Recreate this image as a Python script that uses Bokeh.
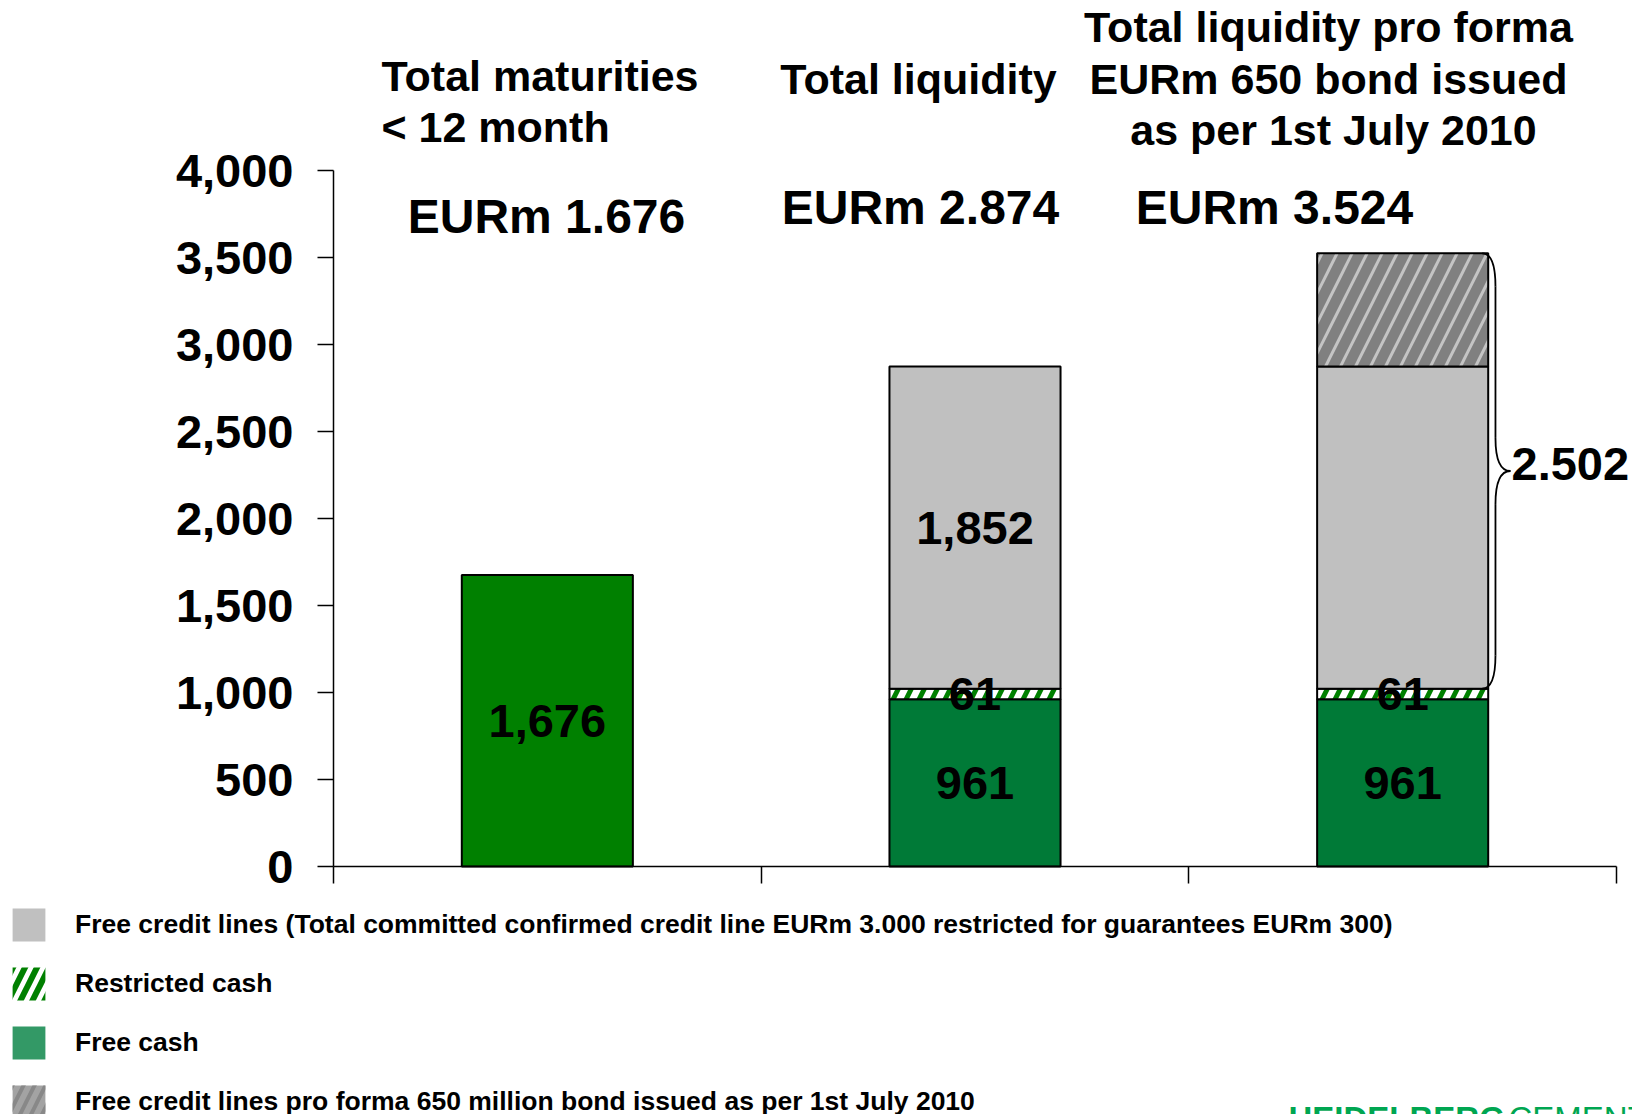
import numpy as np
from bokeh.plotting import figure
from bokeh.models import (Range1d, FixedTicker, NumeralTickFormatter, Label,
                          Legend, LegendItem, ColumnDataSource)
from bokeh.embed import file_html
from bokeh.resources import INLINE
from bokeh.core.properties import value

# ---------------- data ----------------
categories = ["Total maturities < 12 month", "Total liquidity",
              "Total liquidity pro forma EURm 650 bond issued as per 1st July 2010"]
x_pos = [0.5, 1.5, 2.5]
maturities = [1676, 0, 0]
free_cash = [0, 961, 961]
restricted_cash = [0, 61, 61]
free_credit_lines = [0, 1852, 1852]
pro_forma_credit_lines = [0, 0, 650]
show_credit_label = [False, True, False]
y_ticks = [0, 500, 1000, 1500, 2000, 2500, 3000, 3500, 4000]
x_ticks = [0, 1, 2, 3]
header_lines = [["Total maturities", "< 12 month"], ["Total liquidity"],
                ["Total liquidity pro forma", "EURm 650 bond issued", "as per 1st July 2010"]]
totals_text = ["EURm 1.676", "EURm 2.874", "EURm 3.524"]
brace_text = "2.502"
legend_labels = ["Free credit lines (Total committed confirmed credit line EURm 3.000 restricted for guarantees EURm 300)",
                 "Restricted cash", "Free cash",
                 "Free credit lines pro forma 650 million bond issued as per 1st July 2010"]

# ---------------- layout ----------------
W, H = 1632, 1114
AX_L, AX_R, AX_T, AX_B = 333, 1616, 170, 866     # axis box in canvas px
FONT = "Liberation Sans"
BAR_W = 0.4
XS = 3.0 / (AX_R - AX_L)
YS = 4000.0 / (AX_B - AX_T)

p = figure(width=W, height=H,
           x_range=Range1d(-AX_L * XS, (W - AX_L) * XS),
           y_range=Range1d(-(H - AX_B) * YS, AX_B * YS),
           output_backend="svg", toolbar_location=None,
           min_border_left=0, min_border_right=0, min_border_top=0, min_border_bottom=0)
p.outline_line_color = None
p.xgrid.visible = False
p.ygrid.visible = False
p.background_fill_color = "white"
p.border_fill_color = "white"

def dx(px):
    return (px - AX_L) * XS

def dy(py):
    return (AX_B - py) * YS

# axes (drawn at data 0 and limited to the value/category span)
yax = p.yaxis[0]
yax.fixed_location = 0
yax.bounds = (0, 4000)
yax.ticker = FixedTicker(ticks=y_ticks)
yax.formatter = NumeralTickFormatter(format="0,0")
yax.major_label_text_font = FONT
yax.major_label_text_font_style = "bold"
yax.major_label_text_font_size = "47px"
yax.major_label_text_color = "black"
yax.major_tick_out = 16
yax.major_tick_in = 0
yax.minor_tick_out = 0
yax.minor_tick_in = 0
yax.major_label_standoff = 24
yax.axis_line_width = 1.5
yax.major_tick_line_width = 1.5

xax = p.xaxis[0]
xax.fixed_location = 0
xax.bounds = (0, 3)
xax.ticker = FixedTicker(ticks=x_ticks)
xax.major_label_overrides = {t: "" for t in x_ticks}
xax.major_tick_out = 17
xax.major_tick_in = 0
xax.minor_tick_out = 0
xax.minor_tick_in = 0
xax.axis_line_width = 1.5
xax.major_tick_line_width = 1.5

# ---------------- bars ----------------
def seg(values, bottoms):
    xs, b, t = [], [], []
    for x, v, bo in zip(x_pos, values, bottoms):
        if v > 0:
            xs.append(x); b.append(bo); t.append(bo + v)
    return dict(x=xs, bottom=b, top=t)

zero = [0, 0, 0]
b_restr = list(free_cash)
b_credit = [a + b for a, b in zip(free_cash, restricted_cash)]
b_proforma = [a + b for a, b in zip(b_credit, free_credit_lines)]

common = dict(width=BAR_W, line_color="black", line_width=2)
p.vbar(source=ColumnDataSource(seg(maturities, zero)), x="x", bottom="bottom", top="top",
       fill_color="#008000", **common)
p.vbar(source=ColumnDataSource(seg(free_cash, zero)), x="x", bottom="bottom", top="top",
       fill_color="#007A37", **common)
p.vbar(source=ColumnDataSource(seg(restricted_cash, b_restr)), x="x", bottom="bottom", top="top",
       fill_color="white", hatch_pattern="/", hatch_color="#008000", hatch_scale=26,
       hatch_weight=5, **common)
p.vbar(source=ColumnDataSource(seg(free_credit_lines, b_credit)), x="x", bottom="bottom", top="top",
       fill_color="#C0C0C0", **common)
p.vbar(source=ColumnDataSource(seg(pro_forma_credit_lines, b_proforma)), x="x", bottom="bottom", top="top",
       fill_color="#808080", hatch_pattern="/", hatch_color="#C4C4C4", hatch_scale=30,
       hatch_weight=3, **common)

# value labels inside bars
lx, ly, lt = [], [], []
for vals, bots, flags in [(maturities, zero, [True] * 3), (free_cash, zero, [True] * 3),
                          (restricted_cash, b_restr, [True] * 3),
                          (free_credit_lines, b_credit, show_credit_label)]:
    for x, v, b, f in zip(x_pos, vals, bots, flags):
        if v > 0 and f:
            lx.append(x); ly.append(b + v / 2); lt.append(f"{v:,}")
p.text(x=lx, y=ly, text=lt, text_font=value(FONT), text_font_style="bold",
       text_font_size="47px", text_align="center", text_baseline="middle", text_color="black")

# ---------------- brace ----------------
b_top = b_proforma[2] + pro_forma_credit_lines[2]
b_bot = b_credit[2]
b_mid = (b_top + b_bot) / 2
x_hook = x_pos[2] + BAR_W / 2 - 0.014
x_line = x_pos[2] + BAR_W / 2 + 0.017
x_tip = x_pos[2] + BAR_W / 2 + 0.052
r = 190
bl = dict(line_color="black", line_width=1.8)
p.quadratic(x0=[x_hook, x_line, x_tip, x_line], y0=[b_top, b_mid + r, b_mid, b_bot + r],
            x1=[x_line, x_tip, x_line, x_hook], y1=[b_top - r, b_mid, b_mid - r, b_bot],
            cx=[x_line, x_line, x_line, x_line], cy=[b_top, b_mid, b_mid, b_bot], **bl)
p.segment(x0=[x_line, x_line], y0=[b_top - r, b_mid - r],
          x1=[x_line, x_line], y1=[b_mid + r, b_bot + r], **bl)

# ---------------- annotations ----------------
def lab(text, px, py, size, align="center", color="black", style="bold", baseline="middle"):
    p.add_layout(Label(x=dx(px), y=dy(py), text=text, text_font=FONT,
                       text_font_style=style, text_font_size=size, text_align=align,
                       text_baseline=baseline, text_color=color))

lab(header_lines[0][0], 381, 75, "43px", "left")
lab(header_lines[0][1], 381, 126, "43px", "left")
lab(header_lines[1][0], 918, 78, "43px")
lab(header_lines[2][0], 1328, 26, "43px")
lab(header_lines[2][1], 1328, 78, "43px")
lab(header_lines[2][2], 1333, 129, "43px")
lab(totals_text[0], 546, 216, "48px")
lab(totals_text[1], 920, 207, "48px")
lab(totals_text[2], 1274, 207, "48px")
lab(brace_text, 1511, 463, "47px", "left")

# partial logo at the bottom edge (cut off in the reference too)
lab("HEIDELBERG", 1288, 1099, "33px", "left", "#00A651", "bold", "top")
lab("CEMENT", 1508, 1099, "33px", "left", "#00A651", "normal", "top")

# ---------------- legend ----------------
# legend-only renderers: one NaN row each so the swatch is drawn but no mark appears
nan_src = lambda: ColumnDataSource(dict(x=np.array([np.nan]), top=np.array([np.nan])))
lg_credit = p.vbar(source=nan_src(), x="x", top="top", width=BAR_W, fill_color="#C0C0C0", line_color=None)
lg_restr = p.vbar(source=nan_src(), x="x", top="top", width=BAR_W, fill_color="white",
                  hatch_pattern="/", hatch_color="#008000", hatch_scale=24, hatch_weight=6, line_color=None)
lg_cash = p.vbar(source=nan_src(), x="x", top="top", width=BAR_W, fill_color="#339966", line_color=None)
lg_pf = p.vbar(source=nan_src(), x="x", top="top", width=BAR_W, fill_color="#A3A3A3",
               hatch_pattern="/", hatch_color="#888888", hatch_scale=22, hatch_weight=4, line_color=None)

LEG_LEFT, LEG_TOP = 8, 904
LEG_H = 4 * 41 + 3 * 18
legend = Legend(items=[LegendItem(label=legend_labels[0], renderers=[lg_credit]),
                       LegendItem(label=legend_labels[1], renderers=[lg_restr]),
                       LegendItem(label=legend_labels[2], renderers=[lg_cash]),
                       LegendItem(label=legend_labels[3], renderers=[lg_pf])],
                location=(LEG_LEFT, H - (LEG_TOP + LEG_H)), orientation="vertical",
                glyph_width=41, glyph_height=41, spacing=18, padding=0, margin=0,
                label_standoff=26, label_text_font=FONT, label_text_font_style="bold",
                label_text_font_size="26.5px", label_text_color="black", label_height=41,
                border_line_color=None, background_fill_alpha=0)
p.add_layout(legend, "center")

open("out.html", "w").write(file_html(p, INLINE))
